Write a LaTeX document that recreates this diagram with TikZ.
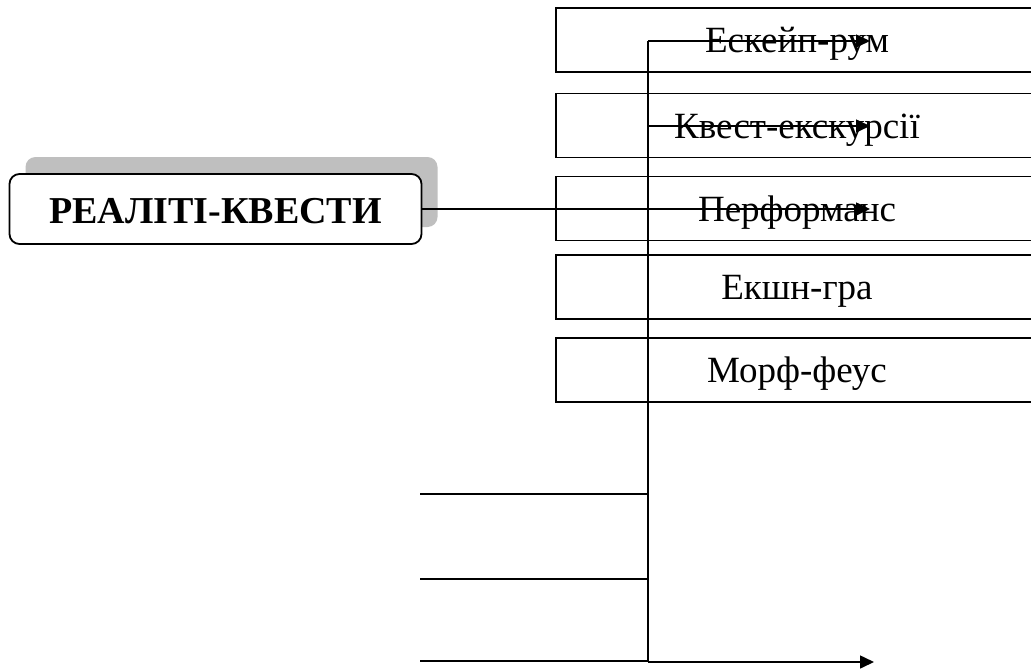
\documentclass[tikz,border=0pt]{standalone}
\usepackage{fontspec}
\setmainfont{Liberation Serif}
\usetikzlibrary{arrows.meta,positioning,shadows}
\tikzset{
  questbox/.style={draw,line width=1.6pt,minimum width=482pt,minimum height=64pt,inner sep=0pt,
    text height=25pt,text depth=0pt,font=\fontsize{37}{40}\selectfont},
  mainbox/.style={draw,line width=1.8pt,rounded corners=10pt,fill=white,minimum width=412pt,minimum height=70pt,inner sep=0pt,
    text height=28pt,text depth=0pt,font=\fontsize{38}{42}\selectfont\bfseries,
    drop shadow={shadow xshift=16pt,shadow yshift=17pt,fill=black!25,opacity=1}},
  link/.style={line width=1.6pt},
  arrowlink/.style={link,-{Triangle[length=14pt,width=13pt]}}
}
\begin{document}
\begin{tikzpicture}[x=1pt,y=-1pt]
    \clip (0,0) rectangle (1031,672);
    \fill[white] (0,0) rectangle (1031,672);
    % main node
    \node[mainbox] (quests) at (215.5,209) {РЕАЛІТІ-КВЕСТИ};
    % kinds of quests
    \node[questbox] (escape) at (797,40) {Ескейп-рум};
    \node[questbox] (excursion) at (797,125.5) {Квест-екскурсії};
    \node[questbox] (performance) at (797,208.5) {Перформанс};
    \node[questbox] (action) at (797,287) {Екшн-гра};
    \node[questbox] (morph) at (797,370) {Морф-феус};
    % trunk
    \coordinate (trunktop) at (648,41);
    \coordinate (trunkbot) at (648,662);
    \draw[link] (trunkbot) -- (trunktop);
    \coordinate (tipA) at (870,41);
    \coordinate (tipB) at (870,126);
    \coordinate (tipC) at (870,209);
    \coordinate (tipD) at (874,662);
    \draw[arrowlink] (trunktop) -- (tipA);
    \draw[arrowlink] (tipB -| trunktop) -- (tipB);
    \draw[arrowlink] (quests.east) -- (tipC);
    \draw[arrowlink] (trunkbot) -- (tipD);
    % loose stubs
    \foreach \y [count=\i] in {494,579,661} {
        \coordinate (stub\i) at (420,\y);
        \draw[link] (stub\i) -- (stub\i -| trunktop);
    }
\end{tikzpicture}
\end{document}
